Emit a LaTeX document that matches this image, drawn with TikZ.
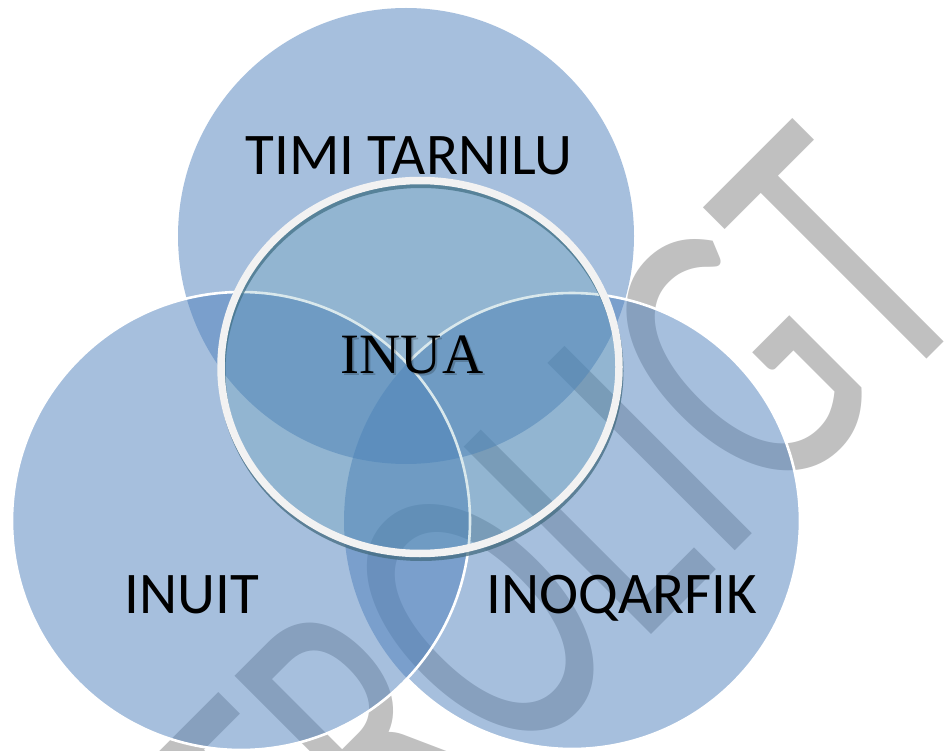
\documentclass[tikz,border=0pt]{standalone}
\usepackage{fontspec}
\setmainfont{Carlito}
\newfontfamily\inuafont{Liberation Serif}
\usepackage{graphicx}
\usepackage{tikz}
\usetikzlibrary{calc}
\definecolor{vennblue}{RGB}{79,129,189}
\definecolor{inuafill}{RGB}{67,141,162}
\definecolor{inuashade}{RGB}{68,108,128}
\definecolor{ringwhite}{RGB}{242,242,242}
\definecolor{markgray}{RGB}{192,192,192}
\tikzset{
  venn/.style={fill=vennblue, fill opacity=0.5},
  vennline/.style={draw=white, line width=2.6pt},
  vennlabel/.style={anchor=base, font=\fontsize{59}{59}\selectfont},
  inualabel/.style={anchor=base, font=\inuafont\fontsize{57}{57}\selectfont},
}

\begin{document}
\begin{tikzpicture}[x=1pt,y=-1pt]
            \tikzstyle{every node}+=[inner sep=0pt]
            \useasboundingbox (0,0) rectangle (945,751);
            \clip (0,0) rectangle (945,751);
            \fill [white] (0,0) rectangle (945,751);
            \node (mark) [anchor=base east, rotate=45, text=markgray, font=\fontsize{413}{413}\selectfont] at (983,303) {\scalebox{0.66}[1]{FORTROLIGT}};
            \coordinate (tc) at (406,236);
            \coordinate (rc) at (572,521);
            \coordinate (lc) at (241,521);
            \coordinate (ic) at (420,367);
            \fill [venn] (tc) circle (228);
            \fill [venn] (rc) circle (228);
            \fill [venn] (lc) circle (229);
            \draw [vennline] (rc) ++(-136.3:228) arc [start angle=-136.3, end angle=136.3, radius=228];
            \draw [vennline] (lc) circle (229);
            \draw [inuashade, line width=7pt, opacity=0.75] ($(ic)+(1,4)$) ellipse [x radius=199, y radius=186.5];
            \fill [inuafill, fill opacity=0.2] (ic) ellipse [x radius=199, y radius=186.5];
            \draw [ringwhite, line width=7.5pt] (ic) ellipse [x radius=199, y radius=186.5];
            \node (timi) [vennlabel] at (409,175) {TIMI TARNILU};
            \node (inuit) [vennlabel] at (192,613) {INUIT};
            \node (inoqarfik) [vennlabel] at (622,613) {INOQARFIK};
            \node (inuashadow) [inualabel, text=black, opacity=0.2] at (414,375) {INUA};
            \node (inua) [inualabel] at (412,373) {INUA};
\end{tikzpicture}
\end{document}
